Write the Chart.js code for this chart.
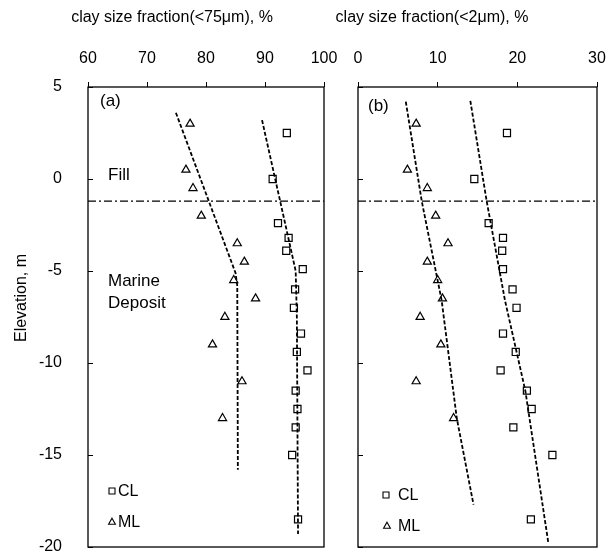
<!DOCTYPE html>
<html>
<head>
<meta charset="utf-8">
<script src="https://cdn.jsdelivr.net/npm/chart.js@4.4.1/dist/chart.umd.min.js"></script>
<style>
  html, body { margin: 0; padding: 0; background: #fff; }
  #wrap { position: relative; width: 613px; height: 555px; overflow: hidden; background: #fff; }
  #wrap canvas { position: absolute; top: 0; }
  #panelA { left: 0; }
  #panelB { left: 290px; }
</style>
</head>
<body>
<div id="wrap">
  <canvas id="panelA" width="340" height="555"></canvas>
  <canvas id="panelB" width="323" height="555"></canvas>
</div>
<script>
// ---- sample data ----
// CL samples: elevation (m) and clay size fractions (%)
const elevCL     = [2.5, 0, -2.4, -3.2, -3.9, -4.9, -6, -7, -8.4, -9.4, -10.4, -11.5, -12.5, -13.5, -15, -18.5];
const cl75CL     = [93.7, 91.3, 92.2, 94.0, 93.6, 96.4, 95.1, 94.9, 96.1, 95.4, 97.2, 95.2, 95.5, 95.2, 94.6, 95.6];
const cl2CL      = [18.7, 14.6, 16.4, 18.2, 18.1, 18.2, 19.4, 19.9, 18.2, 19.8, 17.9, 21.2, 21.8, 19.5, 24.4, 21.7];

// ML samples
const elevML     = [3, 0.5, -0.5, -2, -3.5, -4.5, -5.5, -6.5, -7.5, -9, -11, -13];
const cl75ML     = [77.3, 76.6, 77.8, 79.2, 85.3, 86.5, 84.7, 88.4, 83.2, 81.1, 86.1, 82.8];
const cl2ML      = [7.3, 6.2, 8.7, 9.75, 11.3, 8.7, 10.0, 10.6, 7.8, 10.4, 7.3, 12.0];

// trend lines (fraction %, elevation m)
const trend75CL  = [[89.5, 3.2], [93.4, -2.4], [95.2, -5.0], [95.4, -7.5], [95.6, -19.3]];
const trend75ML  = [[74.9, 3.6], [85.0, -5.1], [85.3, -5.8], [85.4, -15.8]];
const trend2CL   = [[14.1, 4.25], [16.15, -1.2], [18.45, -6.6], [21.0, -11.5], [23.9, -19.8]];
const trend2ML   = [[6.0, 4.2], [8.0, -1.2], [10.5, -6.6], [12.4, -13.0], [14.5, -17.7]];

// fill / marine deposit boundary elevation (m)
const boundaryElev = -1.2;

// axis ranges and tick steps
const xRange75   = [60, 100];
const xRange2    = [0, 30];
const xStep75    = 10;
const xStep2     = 10;
const elevRange  = [-20, 5];
const elevStep   = 5;

const FONT = "'Liberation Sans', Arial, Helvetica, sans-serif";

const toPoints = (xs, ys) => xs.map((v, i) => ({ x: v, y: ys[i] }));
const pairPoints = arr => arr.map(p => ({ x: p[0], y: p[1] }));

// frame, inward elevation ticks, annotations and legend
const panelDecor = {
  id: 'panelDecor',
  afterDraw(chart, args, opts) {
    const ctx = chart.ctx;
    const a = chart.chartArea;
    const off = opts.offsetX || 0;
    ctx.save();
    ctx.strokeStyle = '#000';
    ctx.lineWidth = 1.3;
    ctx.strokeRect(a.left, a.top, a.right - a.left, a.bottom - a.top);

    // inward tick marks on the elevation axis
    const ys = chart.scales.y;
    ctx.lineWidth = 1;
    ctx.beginPath();
    ys.ticks.forEach(t => {
      const py = Math.round(ys.getPixelForValue(t.value)) + 0.5;
      ctx.moveTo(a.left, py);
      ctx.lineTo(a.left + 5, py);
    });
    ctx.stroke();

    // text labels
    ctx.fillStyle = '#000';
    (opts.texts || []).forEach(t => {
      ctx.save();
      ctx.font = (t.size || 16) + 'px ' + FONT;
      ctx.textAlign = t.align || 'left';
      ctx.textBaseline = 'middle';
      ctx.translate(t.x - off, t.y);
      if (t.rotate) ctx.rotate(-Math.PI / 2);
      ctx.fillText(t.text, 0, 0);
      ctx.restore();
    });

    // legend entries
    ctx.lineWidth = 1.1;
    (opts.legend || []).forEach(l => {
      const sx = l.x - off, sy = l.y;
      ctx.beginPath();
      if (l.shape === 'rect') {
        ctx.rect(sx - 3, sy - 3, 6, 6);
      } else {
        ctx.moveTo(sx, sy - 3.8);
        ctx.lineTo(sx + 3.4, sy + 2.2);
        ctx.lineTo(sx - 3.4, sy + 2.2);
        ctx.closePath();
      }
      ctx.stroke();
      ctx.font = '16px ' + FONT;
      ctx.textAlign = 'left';
      ctx.textBaseline = 'middle';
      ctx.fillText(l.label, l.tx - off, sy + 1);
    });
    ctx.restore();
  }
};

function buildPanel(canvasId, cfg) {
  const datasets = [
    {
      label: 'CL', data: toPoints(cfg.clX, elevCL),
      pointStyle: 'rect', pointRadius: 5, pointHoverRadius: 5,
      pointBorderColor: '#000', pointBackgroundColor: 'rgba(0,0,0,0)', pointBorderWidth: 1.2,
      showLine: false
    },
    {
      label: 'ML', data: toPoints(cfg.mlX, elevML),
      pointStyle: 'triangle', pointRadius: 4.7, pointHoverRadius: 4.7,
      pointBorderColor: '#000', pointBackgroundColor: 'rgba(0,0,0,0)', pointBorderWidth: 1.2,
      showLine: false
    },
    {
      label: 'CL trend', data: pairPoints(cfg.clTrend), showLine: true,
      borderColor: '#000', borderWidth: 1.8, borderDash: [4, 2], pointRadius: 0, tension: 0
    },
    {
      label: 'ML trend', data: pairPoints(cfg.mlTrend), showLine: true,
      borderColor: '#000', borderWidth: 1.8, borderDash: [4, 2], pointRadius: 0, tension: 0
    },
    {
      label: 'boundary',
      data: [{ x: cfg.xRange[0], y: boundaryElev }, { x: cfg.xRange[1], y: boundaryElev }],
      showLine: true, borderColor: '#000', borderWidth: 1.2, borderDash: [8, 3, 2, 3], pointRadius: 0
    }
  ];

  return new Chart(document.getElementById(canvasId), {
    type: 'scatter',
    data: { datasets },
    plugins: [panelDecor],
    options: {
      responsive: false,
      devicePixelRatio: 1,
      animation: false,
      events: [],
      layout: { padding: { left: 0, top: 0, right: 16, bottom: 8 } },
      plugins: {
        legend: { display: false },
        tooltip: { enabled: false },
        panelDecor: cfg.decor
      },
      scales: {
        x: {
          type: 'linear', position: 'top',
          min: cfg.xRange[0], max: cfg.xRange[1],
          border: { display: false },
          grid: { display: true, drawOnChartArea: false, drawTicks: true, tickLength: 5, color: '#000', lineWidth: 1 },
          ticks: { stepSize: cfg.xStep, color: '#000', font: { family: FONT, size: 16 }, padding: 14, maxRotation: 0, autoSkip: false },
          afterFit(scale) { scale.height = 87; scale.paddingLeft = 0; scale.paddingRight = 0; }
        },
        y: {
          type: 'linear', position: 'left',
          min: elevRange[0], max: elevRange[1],
          border: { display: false },
          grid: { display: false },
          ticks: { display: cfg.yLabels, stepSize: elevStep, color: '#000', font: { family: FONT, size: 16 }, padding: 18 },
          afterFit(scale) { scale.width = cfg.yWidth; scale.paddingTop = 0; scale.paddingBottom = 0; }
        }
      }
    }
  });
}

buildPanel('panelA', {
  clX: cl75CL, mlX: cl75ML, clTrend: trend75CL, mlTrend: trend75ML,
  xRange: xRange75, xStep: xStep75, yLabels: true, yWidth: 88,
  decor: {
    offsetX: 0,
    texts: [
      { text: 'clay size fraction(<75\u03bcm), %', x: 172, y: 18, size: 16, align: 'center' },
      { text: 'Elevation, m', x: 22, y: 298, size: 16, align: 'center', rotate: true },
      { text: '(a)', x: 100, y: 101, size: 17 },
      { text: 'Fill', x: 108, y: 175, size: 17 },
      { text: 'Marine', x: 108, y: 281, size: 17 },
      { text: 'Deposit', x: 108, y: 303, size: 17 }
    ],
    legend: [
      { shape: 'rect', x: 112, y: 491, tx: 118, label: 'CL' },
      { shape: 'triangle', x: 112, y: 522, tx: 118, label: 'ML' }
    ]
  }
});

buildPanel('panelB', {
  clX: cl2CL, mlX: cl2ML, clTrend: trend2CL, mlTrend: trend2ML,
  xRange: xRange2, xStep: xStep2, yLabels: false, yWidth: 68,
  decor: {
    offsetX: 290,
    texts: [
      { text: 'clay size fraction(<2\u03bcm), %', x: 432, y: 18, size: 16, align: 'center' },
      { text: '(b)', x: 368, y: 106, size: 17 }
    ],
    legend: [
      { shape: 'rect', x: 386, y: 495, tx: 398, label: 'CL' },
      { shape: 'triangle', x: 387, y: 526, tx: 398, label: 'ML' }
    ]
  }
});
</script>
</body>
</html>
